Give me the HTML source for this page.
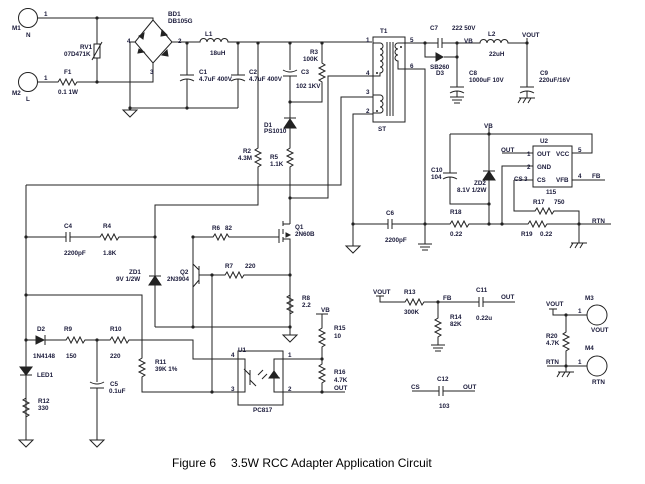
<!DOCTYPE html>
<html><head><meta charset="utf-8"><style>
html,body{margin:0;padding:0;background:#fff;}
svg{display:block;}
text{font-family:"Liberation Sans",Arial,sans-serif;font-size:6.3px;font-weight:bold;fill:#1a1a3a;}
.w{stroke:#222;stroke-width:1;fill:none;}
.cap{font-size:12px;font-weight:normal;fill:#000;}
</style></head><body>
<svg width="645" height="484" viewBox="0 0 645 484" xmlns="http://www.w3.org/2000/svg">
<g class="w">
<!-- input -->
<circle cx="28" cy="18" r="9.5"/><circle cx="28" cy="82" r="9.5"/>
<path d="M37.5,18H153V20"/>
<path d="M97,18V44M97,58V82"/><rect x="94" y="44" width="6" height="14"/><path d="M92,60L102,42"/>
<path d="M37.5,82H58l2,-3l3,6l3,-6l3,6l3,-6l3,6l2,-3H153V63"/>
<path d="M153,20L135,42L153,63L172,42Z"/>
<path d="M130,42H135M130,42V108H238"/>
<path d="M172,42H200a3.5,3.5 0 0 1 7,0a3.5,3.5 0 0 1 7,0a3.5,3.5 0 0 1 7,0a3.5,3.5 0 0 1 7,0H372"/>
<path d="M187,43V75M180,75H194M180,81Q187,77 194,81M187,79V108"/>
<path d="M238,43V75M231,75H245M231,81Q238,77 245,81M238,79V108"/>
<path d="M123,110h14l-7,7z"/>
<!-- R2 path -->
<path d="M258,43V148l-3,2l6,3l-6,3l6,3l-6,3l6,3l-3,2V205H155V327"/>
<path d="M26,185V440M26,185H341V97H373"/>
<!-- x=290 -->
<path d="M290,43V70M283,70Q290,74 297,70M283,76H297M290,76V102H322V82l-3,-2l6,-3l-6,-3l6,-3l-6,-3l6,-3l-3,-2V43"/>
<path d="M290,102V148l-3,2l6,3l-6,3l6,3l-6,3l6,3l-3,2V224"/>
<path d="M290,198H328V76H373"/>
<!-- Q1 -->
<path d="M193,237H213l2,-3l3,6l3,-6l3,6l3,-6l2,3H279M279,229V243M283,221V226M283,229V234M283,237V242M283,224H290M283,239H290V335"/>
<!-- T1 -->
<rect x="373" y="37" width="32" height="85"/>
<path d="M387,42V116M390,42V116M393,42V116"/>
<path d="M373,43H380a3,3 0 0 1 0,6a3,3 0 0 1 0,6a3,3 0 0 1 0,6a3,3 0 0 1 0,6a3,3 0 0 1 0,6V76H373"/>
<path d="M373,95H380a3,3 0 0 1 0,6a3,3 0 0 1 0,6a3,3 0 0 1 0,6H373"/>
<path d="M405,43H398a3,3 0 0 0 0,6a3,3 0 0 0 0,6a3,3 0 0 0 0,6V69H405"/>
<path d="M373,114H353V246M346,246h14l-7,7z"/>
<path d="M405,69H425V244M418,244h14M420,247h10M422,250h6"/>
<!-- output -->
<path d="M405,43H438M438,38V48M442,38V48M442,43H480a3.5,3.5 0 0 1 7,0a3.5,3.5 0 0 1 7,0a3.5,3.5 0 0 1 7,0a3.5,3.5 0 0 1 7,0H527V38"/>
<path d="M425,43V57H436M444,57H457V43"/>
<path d="M457,43V87M450,87H464M450,93Q457,89 464,93M457,91V97M450,97h14M452,100h10M454,103h6"/>
<path d="M527,43V87M520,87H534M520,93Q527,89 534,93M527,91V98M519,98h16M521,98l-3,5M526,98l-3,5M531,98l-3,5"/>
<!-- bottom right line -->
<path d="M353,224H388M388,219V229M392,219V229M392,224H450l2,-3l3,6l3,-6l3,6l3,-6l3,6l2,-3H528l2,-3l3,6l3,-6l3,6l3,-6l3,6l2,-3H611"/>
<path d="M489,128V224M450,134H592V153H572"/>
<path d="M450,134V173M443,173H457M443,179Q450,175 457,179M450,177V204H489"/>
<rect x="533" y="146" width="39" height="41"/>
<path d="M502,153H533M533,166H502V224M514,180H533M514,180V211H535l2,-3l3,6l3,-6l3,6l3,-6l3,6l2,-3H579V243M571,243h16M573,243l-3,5M578,243l-3,5M583,243l-3,5M572,180H605"/>
<!-- C4 line etc -->
<path d="M26,237H66M66,232V242M70,232V242M70,237H100l2,-3l3,6l3,-6l3,6l3,-6l3,6l2,-3H155"/>
<path d="M193,237V327M199,266V284M199,270L193,264M199,280L193,287M199,275H225l2,-3l3,6l3,-6l3,6l3,-6l3,6l2,-3H290"/>
<path d="M212,275V392"/>
<path d="M155,327H290M283,335h14l-7,7z"/>
<path d="M290,275V295l-3,2l6,3l-6,3l6,3l-6,3l6,3l-3,2V327"/>
<path d="M26,295H142V358l-3,2l6,3l-6,3l6,3l-6,3l6,3l-3,2V392H238"/>
<path d="M26,340H36M45,335V345M45,340H66l2,-3l3,6l3,-6l3,6l3,-6l3,6l2,-3H110l2,-3l3,6l3,-6l3,6l3,-6l3,6l2,-3H193V359H238"/>
<path d="M97,340V382M90,382Q97,386 104,382M90,388H104M97,388V440M90,440h14l-7,7z"/>
<path d="M19,440h14l-7,7z"/>
<path d="M20,367H32M26,398l-3,2l6,3l-6,3l6,3l-6,3l6,3l-3,2"/>
<rect x="238" y="351" width="45" height="54"/>
<path d="M238,359H245V392H238M250,370V385M250,375L244,369M250,380L256,386M283,359H274V392H283M269,378H280"/>
<path d="M258,375l5,-5M262,379l5,-5"/>
<path d="M283,359H322M283,392H345M316,314H328M322,314V328l-3,2l6,3l-6,3l6,3l-6,3l6,3l-3,2V364l-3,2l6,3l-6,3l6,3l-6,3l6,3l-3,2V392"/>
<!-- FB divider -->
<path d="M376,296H384M380,296V302H405l2,-3l3,6l3,-6l3,6l3,-6l3,6l2,-3H479M479,297V307M483,297V307M483,302H515"/>
<path d="M438,302V318l-3,2l6,3l-6,3l6,3l-6,3l6,3l-3,2V345M431,345h14M433,348h10M435,351h6"/>
<path d="M412,391H439M439,386V396M443,386V396M443,391H475"/>
<!-- M3 M4 -->
<path d="M549,309H557M553,309V315H587M566,315V332l-3,2l6,3l-6,3l6,3l-6,3l6,3l-3,2V366M547,366H587M566,366V372M558,372h16M560,372l-3,5M565,372l-3,5M570,372l-3,5"/>
<circle cx="597" cy="315" r="10"/><circle cx="597" cy="366" r="10"/>
</g>
<!-- filled symbols -->
<g fill="#222" stroke="#222" stroke-width="1">
<path d="M139,36l5,-3l-1,6z"/><path d="M162,30l5,5l-6,1z"/><path d="M139,49l5,3l-6,1z"/><path d="M162,55l5,-5l1,6z"/>
<path d="M284,128h12l-6,-9z"/><path d="M284,118h12" />
<path d="M436,53v8l7,-4z"/>
<path d="M483,180h12l-6,-9z"/><path d="M483,171h12"/>
<path d="M149,285h12l-6,-9z"/><path d="M149,276h12"/>
<path d="M36,336v8l8,-4z"/>
<path d="M20,367l6,8l6,-8z"/><path d="M20,375h12"/>
<path d="M269,378l5,-7l5,7z"/>
<path d="M286,233l4,2l-4,2z"/>
</g>
<g fill="#222">
<circle cx="97" cy="18" r="1.6"/><circle cx="97" cy="82" r="1.6"/><circle cx="187" cy="43" r="1.6"/><circle cx="238" cy="43" r="1.6"/><circle cx="258" cy="43" r="1.6"/><circle cx="290" cy="43" r="1.6"/><circle cx="322" cy="43" r="1.6"/><circle cx="130" cy="108" r="1.6"/><circle cx="187" cy="108" r="1.6"/>
<circle cx="290" cy="102" r="1.6"/><circle cx="290" cy="198" r="1.6"/><circle cx="425" cy="43" r="1.6"/><circle cx="457" cy="43" r="1.6"/><circle cx="457" cy="57" r="1.6"/><circle cx="527" cy="43" r="1.6"/>
<circle cx="353" cy="224" r="1.6"/><circle cx="425" cy="224" r="1.6"/><circle cx="489" cy="224" r="1.6"/><circle cx="502" cy="224" r="1.6"/><circle cx="579" cy="224" r="1.6"/><circle cx="489" cy="134" r="1.6"/><circle cx="489" cy="204" r="1.6"/>
<circle cx="26" cy="237" r="1.6"/><circle cx="155" cy="237" r="1.6"/><circle cx="193" cy="237" r="1.6"/><circle cx="212" cy="275" r="1.6"/><circle cx="290" cy="275" r="1.6"/><circle cx="193" cy="327" r="1.6"/><circle cx="290" cy="327" r="1.6"/>
<circle cx="26" cy="295" r="1.6"/><circle cx="26" cy="340" r="1.6"/><circle cx="97" cy="340" r="1.6"/><circle cx="212" cy="392" r="1.6"/><circle cx="322" cy="359" r="1.6"/><circle cx="322" cy="392" r="1.6"/>
<circle cx="438" cy="302" r="1.6"/><circle cx="566" cy="315" r="1.6"/><circle cx="566" cy="366" r="1.6"/>
<circle cx="377" cy="73" r="1"/><circle cx="377" cy="111" r="1"/><circle cx="401" cy="47" r="1"/>
</g>
<!-- labels -->
<text x="44" y="16">1</text><text x="12" y="30">M1</text><text x="26" y="37">N</text>
<text x="44" y="80">1</text><text x="12" y="95">M2</text><text x="26" y="101">L</text>
<text x="64" y="74">F1</text><text x="58" y="94">0.1 1W</text>
<text x="80" y="49">RV1</text><text x="64" y="56">07D471K</text>
<text x="168" y="16">BD1</text><text x="168" y="23">DB105G</text>
<text x="127" y="43">4</text><text x="178" y="43">2</text><text x="150" y="74">3</text>
<text x="205" y="36">L1</text><text x="210" y="55">18uH</text>
<text x="199" y="74">C1</text><text x="199" y="81">4.7uF 400V</text>
<text x="249" y="74">C2</text><text x="249" y="81">4.7uF 400V</text>
<text x="310" y="54">R3</text><text x="303" y="61">100K</text>
<text x="301" y="74">C3</text><text x="296" y="88">102 1KV</text>
<text x="264" y="127">D1</text><text x="264" y="133">PS1010</text>
<text x="243" y="153">R2</text><text x="238" y="160">4.3M</text>
<text x="270" y="159">R5</text><text x="270" y="166">1.1K</text>
<text x="380" y="33">T1</text><text x="378" y="131">ST</text>
<text x="366" y="42">1</text><text x="366" y="75">4</text><text x="366" y="94">3</text><text x="366" y="113">2</text>
<text x="410" y="42">5</text><text x="410" y="68">6</text>
<text x="430" y="30">C7</text><text x="452" y="30">222 50V</text><text x="464" y="43">VB</text>
<text x="430" y="69">SB260</text><text x="436" y="75">D3</text>
<text x="469" y="75">C8</text><text x="469" y="82">1000uF 10V</text>
<text x="488" y="36">L2</text><text x="489" y="56">22uH</text>
<text x="522" y="37">VOUT</text>
<text x="540" y="75">C9</text><text x="539" y="82">220uF/16V</text>
<text x="484" y="128">VB</text><text x="540" y="143">U2</text>
<text x="501" y="152">OUT</text><text x="527" y="156">1</text><text x="527" y="169">2</text><text x="524" y="181">3</text><text x="514" y="181">CS</text>
<text x="537" y="156">OUT</text><text x="556" y="156">VCC</text><text x="537" y="169">GND</text><text x="537" y="182">CS</text><text x="556" y="182">VFB</text>
<text x="578" y="152">5</text><text x="578" y="178">4</text><text x="592" y="178">FB</text><text x="546" y="194">115</text>
<text x="431" y="172">C10</text><text x="431" y="179">104</text>
<text x="474" y="185">ZD2</text><text x="457" y="192">8.1V 1/2W</text>
<text x="533" y="204">R17</text><text x="554" y="204">750</text>
<text x="450" y="214">R18</text><text x="450" y="236">0.22</text>
<text x="521" y="236">R19</text><text x="540" y="236">0.22</text>
<text x="592" y="223">RTN</text>
<text x="386" y="215">C6</text><text x="385" y="242">2200pF</text>
<text x="64" y="228">C4</text><text x="64" y="255">2200pF</text>
<text x="103" y="228">R4</text><text x="103" y="255">1.8K</text>
<text x="212" y="230">R6</text><text x="225" y="230">82</text>
<text x="295" y="229">Q1</text><text x="295" y="236">2N60B</text>
<text x="129" y="274">ZD1</text><text x="116" y="281">9V 1/2W</text>
<text x="180" y="274">Q2</text><text x="167" y="281">2N3904</text>
<text x="225" y="268">R7</text><text x="245" y="268">220</text>
<text x="302" y="300">R8</text><text x="302" y="307">2.2</text>
<text x="321" y="312">VB</text>
<text x="334" y="330">R15</text><text x="334" y="338">10</text>
<text x="334" y="374">R16</text><text x="334" y="382">4.7K</text>
<text x="334" y="390">OUT</text>
<text x="37" y="331">D2</text><text x="33" y="358">1N4148</text>
<text x="64" y="331">R9</text><text x="66" y="358">150</text>
<text x="110" y="331">R10</text><text x="110" y="358">220</text>
<text x="155" y="364">R11</text><text x="155" y="371">39K 1%</text>
<text x="37" y="377">LED1</text>
<text x="110" y="386">C5</text><text x="109" y="393">0.1uF</text>
<text x="38" y="403">R12</text><text x="38" y="410">330</text>
<text x="238" y="352">U1</text><text x="231" y="357">4</text><text x="231" y="391">3</text><text x="288" y="357">1</text><text x="288" y="391">2</text>
<text x="253" y="412">PC817</text>
<text x="373" y="294">VOUT</text><text x="404" y="294">R13</text><text x="404" y="314">300K</text>
<text x="443" y="300">FB</text><text x="476" y="292">C11</text><text x="501" y="299">OUT</text><text x="476" y="320">0.22u</text>
<text x="450" y="319">R14</text><text x="450" y="326">82K</text>
<text x="411" y="389">CS</text><text x="437" y="381">C12</text><text x="463" y="389">OUT</text><text x="439" y="408">103</text>
<text x="585" y="300">M3</text><text x="578" y="313">1</text><text x="591" y="332">VOUT</text>
<text x="546" y="306">VOUT</text>
<text x="546" y="338">R20</text><text x="546" y="345">4.7K</text>
<text x="585" y="350">M4</text><text x="578" y="364">1</text><text x="546" y="364">RTN</text><text x="592" y="384">RTN</text>
<text class="cap" x="172" y="467">Figure 6</text><text class="cap" x="231" y="467">3.5W RCC Adapter Application Circuit</text>
</svg>
</body></html>
